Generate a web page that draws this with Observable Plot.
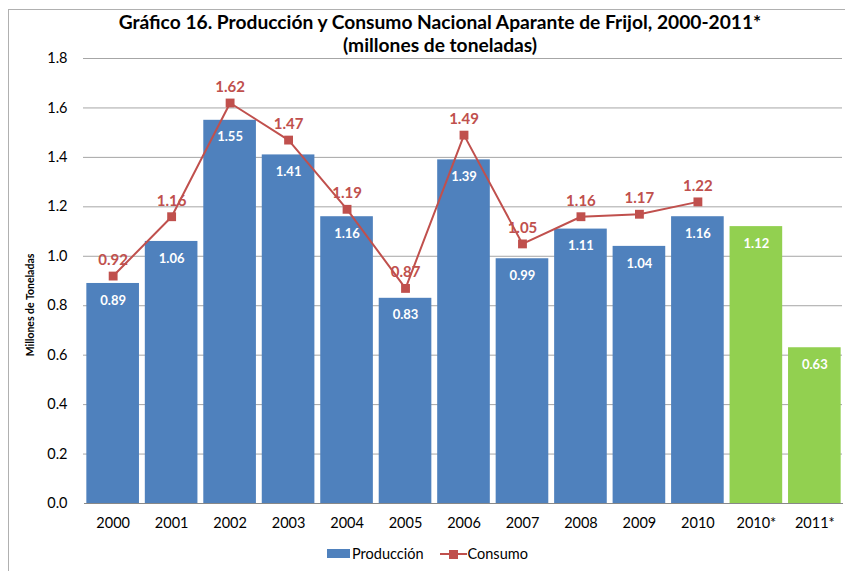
<!DOCTYPE html>
<html>
<head>
<meta charset="utf-8">
<script src="https://cdn.jsdelivr.net/npm/d3@7"></script>
<script src="https://cdn.jsdelivr.net/npm/@observablehq/plot@0.6"></script>
<style>
  html, body { margin: 0; padding: 0; background: #fff; }
  body { width: 845px; height: 571px; position: relative; overflow: hidden; font-family: Lato, "Open Sans", sans-serif; }
  #frame { position: absolute; left: 8px; top: 9px; width: 900px; height: 700px; border: 1px solid #b0b0b0; box-sizing: border-box; }
  #title { position: absolute; left: 0; top: 10px; width: 880px; text-align: center; font-weight: bold; font-size: 19.2px; line-height: 23px; color: #000; z-index: 2; }
  #ylabel { position: absolute; left: 30px; top: 305px; transform: translate(-50%, -50%) rotate(-90deg); font-size: 10.5px; font-weight: bold; white-space: nowrap; }
  #chart { position: absolute; left: 0; top: 46px; }
  #legend { position: absolute; top: 545px; left: 327px; font-size: 14.5px; display: flex; align-items: center; color: #000; }
  .sw { display: inline-block; }
</style>
</head>
<body>
<div id="frame"></div>
<div id="chart"></div>
<div id="title">Gráfico 16. Producción y Consumo Nacional Aparante de Frijol, 2000-2011*<br>(millones de toneladas)</div>
<div id="ylabel">Millones de Toneladas</div>
<div id="legend">
  <span class="sw" style="width:23px;height:9px;background:#4F81BD;margin-right:2px"></span><span>Producción</span>
  <svg width="27" height="12" style="margin-left:16px;margin-right:1px"><line x1="0" y1="6" x2="27" y2="6" stroke="#C0504D" stroke-width="2"/><rect x="9" y="2" width="9" height="9" fill="#C0504D"/></svg><span>Consumo</span>
</div>
<script>
const categories = ["2000","2001","2002","2003","2004","2005","2006","2007","2008","2009","2010","2010*","2011*"];
const produccion = [0.89,1.06,1.55,1.41,1.16,0.83,1.39,0.99,1.11,1.04,1.16,1.12,0.63];
const consumoYears = ["2000","2001","2002","2003","2004","2005","2006","2007","2008","2009","2010"];
const consumo = [0.92,1.16,1.62,1.47,1.19,0.87,1.49,1.05,1.16,1.17,1.22];
const yTicks = [0,0.2,0.4,0.6,0.8,1.0,1.2,1.4,1.6,1.8];

const bars = categories.map((c, i) => ({cat: c, value: produccion[i], est: c.endsWith("*")}));
const line = consumoYears.map((c, i) => ({cat: c, value: consumo[i]}));

const chart = Plot.plot({
  width: 845,
  height: 499,
  marginLeft: 84,
  marginRight: 2,
  marginTop: 12,
  marginBottom: 42,
  style: { fontFamily: "Lato, 'Open Sans', sans-serif", fontSize: "14.5px", color: "#000", background: "transparent" },
  x: { domain: categories, paddingInner: 0.1, paddingOuter: 0.04, round: false, label: null, tickSize: 0, tickPadding: 14 },
  y: { domain: [0, 1.8], ticks: yTicks, tickFormat: d3.format(".1f"), label: null, tickSize: 0, tickPadding: 17 },
  marks: [
    Plot.ruleY(yTicks.filter(d => d > 0), { stroke: "#a6a6a6", strokeWidth: 1, dx: -1 }),
    Plot.barY(bars, { x: "cat", y: "value", fill: d => d.est ? "#92D050" : "#4F81BD" }),
    Plot.text(bars, { x: "cat", y: "value", text: d => d3.format(".2f")(d.value), dy: 17, fill: "white", fontWeight: "bold", fontSize: 13 }),
    Plot.ruleY([0], { stroke: "#888", strokeWidth: 1.2 }),
    Plot.lineY(line, { x: "cat", y: "value", stroke: "#C0504D", strokeWidth: 2 }),
    Plot.dot(line, { x: "cat", y: "value", symbol: "square", r: 5, fill: "#C0504D" }),
    Plot.text(line, { x: "cat", y: "value", text: d => d3.format(".2f")(d.value), dy: -16, fill: "#C0504D", fontWeight: "bold", fontSize: 15 })
  ]
});
document.getElementById("chart").appendChild(chart);
</script>
</body>
</html>
